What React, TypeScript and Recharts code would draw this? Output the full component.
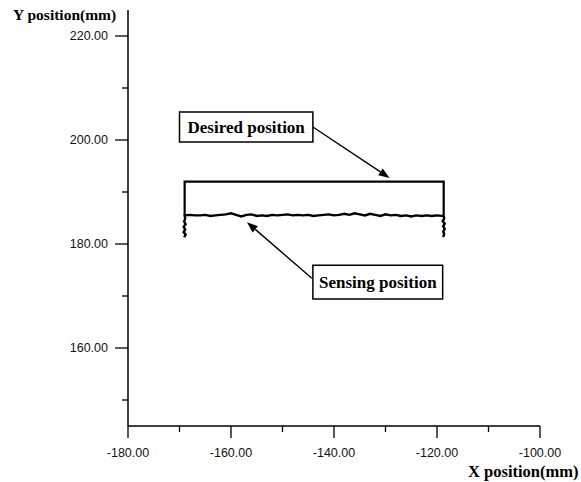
import { ComposedChart, Line, XAxis, YAxis, ReferenceArea, ReferenceLine } from 'recharts'

// axis ticks (major ones carry a label)
const xTicks = [-180, -170, -160, -150, -140, -130, -120, -110, -100]
const yTicks = [150, 160, 170, 180, 190, 200, 210, 220]

// desired path (drawn as an open rectangle above the sensed track)
const desiredX = [-169, -169, -118.7, -118.7]
const desiredY = [185.6, 192, 192, 185.6]

// sensed path
const sensingX = [
  -169.1, -168.8, -169.2, -168.9, -169.2, -168.8, -169.1, -168.9, -169.0,
  -168, -167, -166, -165, -164, -163, -162, -161, -160, -159,
  -158, -157, -156, -155, -154, -153, -152, -151, -150, -149,
  -148, -147, -146, -145, -144, -143, -142, -141, -140, -139,
  -138, -137, -136, -135, -134, -133, -132, -131, -130, -129,
  -128, -127, -126, -125, -124, -123, -122, -121, -120, -119,
  -118.7, -118.6, -118.9, -118.5, -118.8, -118.5, -118.8, -118.6, -118.8,
]
const sensingY = [
  181.3, 181.8, 182.3, 182.8, 183.3, 183.8, 184.3, 184.9, 185.5,
  185.6, 185.5, 185.5, 185.6, 185.4, 185.5, 185.6, 185.7, 185.9, 185.6,
  185.3, 185.6, 185.7, 185.4, 185.5, 185.4, 185.6, 185.5, 185.6, 185.7,
  185.5, 185.6, 185.5, 185.6, 185.4, 185.5, 185.6, 185.7, 185.5, 185.6,
  185.8, 185.6, 185.9, 185.7, 185.5, 185.8, 185.6, 185.4, 185.7, 185.5,
  185.6, 185.4, 185.5, 185.3, 185.5, 185.4, 185.5, 185.4, 185.5, 185.4,
  185.4, 184.9, 184.4, 183.9, 183.4, 182.9, 182.4, 181.9, 181.3,
]

const desired = desiredX.map((x, i) => ({ x, y: desiredY[i] }))
const sensing = sensingX.map((x, i) => ({ x, y: sensingY[i] }))

const serif = '"Liberation Serif", "Times New Roman", serif'
const sans = '"Liberation Sans", Arial, sans-serif'

function YTick(props: any) {
  const { x, y, payload } = props
  const major = payload.value % 20 === 0
  return (
    <g>
      <line x1={x - (major ? 13 : 6)} y1={y} x2={x} y2={y} stroke="#000" strokeWidth={1.3} />
      {major && (
        <text x={x - 20} y={y + 4} textAnchor="end" fontFamily={sans} fontSize={12.5} fill="#111">
          {payload.value.toFixed(2)}
        </text>
      )}
    </g>
  )
}

function XTick(props: any) {
  const { x, y, payload } = props
  const major = payload.value % 20 === 0
  return (
    <g>
      <line x1={x} y1={y} x2={x} y2={y + (major ? 12 : 6)} stroke="#000" strokeWidth={1.3} />
      {major && (
        <text x={x} y={y + 31} textAnchor="middle" fontFamily={sans} fontSize={12.5} fill="#111">
          {payload.value.toFixed(2)}
        </text>
      )}
    </g>
  )
}

function boxLabel(text: string) {
  return (p: any) => {
    const vb = p.viewBox
    return (
      <text
        x={vb.x + vb.width / 2}
        y={vb.y + vb.height / 2 + 6}
        textAnchor="middle"
        fontFamily={serif}
        fontWeight="bold"
        fontSize={17}
        fill="#000"
      >
        {text}
      </text>
    )
  }
}

function Arrow(p: any) {
  const { x1, y1, x2, y2 } = p
  const a = Math.atan2(y2 - y1, x2 - x1)
  const len = 11
  const w = 4
  const bx = x2 - len * Math.cos(a)
  const by = y2 - len * Math.sin(a)
  const pts = [
    `${x2},${y2}`,
    `${bx + w * Math.sin(a)},${by - w * Math.cos(a)}`,
    `${bx - w * Math.sin(a)},${by + w * Math.cos(a)}`,
  ].join(' ')
  return (
    <g>
      <line x1={x1} y1={y1} x2={bx} y2={by} stroke="#000" strokeWidth={1.4} />
      <polygon points={pts} fill="#000" />
    </g>
  )
}

export default function App() {
  return (
    <div style={{ position: 'absolute', left: 0, top: 0, width: 581, height: 482, background: '#fff' }}>
      <ComposedChart width={581} height={482} margin={{ top: 10, right: 41, bottom: 26, left: 68 }}>
        <XAxis
          dataKey="x"
          type="number"
          domain={[-180, -100]}
          ticks={xTicks}
          allowDataOverflow
          height={30}
          tickSize={0}
          tickMargin={0}
          tickLine={false}
          tick={<XTick />}
          axisLine={{ stroke: '#000', strokeWidth: 1.5 }}
        />
        <YAxis
          dataKey="y"
          type="number"
          domain={[145, 225]}
          ticks={yTicks}
          allowDataOverflow
          width={60}
          tickSize={0}
          tickMargin={0}
          tickLine={false}
          tick={<YTick />}
          axisLine={{ stroke: '#000', strokeWidth: 1.5 }}
        />
        <Line
          data={desired}
          dataKey="y"
          type="linear"
          stroke="#000"
          strokeWidth={2.2}
          dot={false}
          isAnimationActive={false}
        />
        <Line
          data={sensing}
          dataKey="y"
          type="linear"
          stroke="#000"
          strokeWidth={2.4}
          dot={false}
          isAnimationActive={false}
        />
        <ReferenceArea
          x1={-170}
          x2={-144.1}
          y1={199.6}
          y2={205.4}
          stroke="#000"
          strokeWidth={1.5}
          fill="#fff"
          fillOpacity={1}
          label={boxLabel('Desired position')}
        />
        <ReferenceArea
          x1={-144.1}
          x2={-118.9}
          y1={169.4}
          y2={175.9}
          stroke="#000"
          strokeWidth={1.5}
          fill="#fff"
          fillOpacity={1}
          label={boxLabel('Sensing position')}
        />
        <ReferenceLine
          segment={[{ x: -144.1, y: 202.5 }, { x: -129.2, y: 192.7 }]}
          stroke="#000"
          shape={Arrow}
        />
        <ReferenceLine
          segment={[{ x: -144.3, y: 173.4 }, { x: -156.9, y: 184.2 }]}
          stroke="#000"
          shape={Arrow}
        />
      </ComposedChart>
      <div
        style={{
          position: 'absolute',
          left: 13,
          top: 6,
          fontFamily: serif,
          fontWeight: 'bold',
          fontSize: 15.5,
          lineHeight: '18px',
          whiteSpace: 'nowrap',
        }}
      >
        Y position(mm)
      </div>
      <div
        style={{
          position: 'absolute',
          left: 468,
          top: 462,
          fontFamily: serif,
          fontWeight: 'bold',
          fontSize: 16.5,
          lineHeight: '19px',
          whiteSpace: 'nowrap',
        }}
      >
        X position(mm)
      </div>
    </div>
  )
}
